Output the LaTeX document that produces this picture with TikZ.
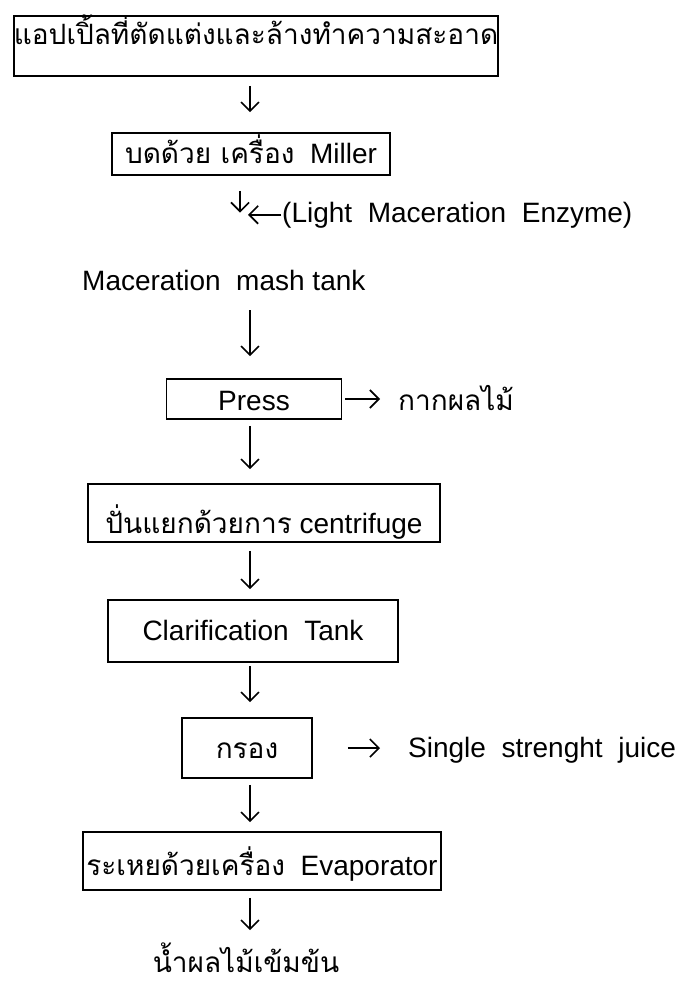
\documentclass[tikz,border=0pt]{standalone}
\usepackage{fontspec}
\setmainfont{Liberation Sans}
\newfontfamily\thaifont[Script=Thai]{Loma}
\newcommand{\thai}[1]{{\thaifont #1}}
\usetikzlibrary{arrows.meta}

\tikzset{
  box/.style={draw, line width=1.6pt, inner sep=0pt, anchor=base, font=\fontsize{28}{32}\selectfont},
  txt/.style={inner sep=0pt, font=\fontsize{28}{32}\selectfont},
  flow/.style={-{Straight Barb[length=9pt,width=18pt,line width=1.6pt]}, line width=1.5pt}
}

\begin{document}
\begin{tikzpicture}[x=1pt, y=-1pt]
    \useasboundingbox (0,0) rectangle (699,990);

    % Main line
    \node[box, minimum width=483pt, text height=29pt, text depth=31pt] (wash) at (256,45) {\thai{แอปเปิ้ลที่ตัดแต่งและล้างทำความสะอาด}};
    \node[box, minimum width=278pt, text height=30pt, text depth=12pt] (mill) at (251,163) {\thai{บดด้วย เครื่อง}\ \ Miller};
    \node[txt, anchor=base west] (enzyme) at (282,222) {(Light\ \ Maceration\ \ Enzyme)};
    \node[txt, anchor=base west] (mash) at (82,290) {Maceration\ \ mash tank};
    \node[box, minimum width=175pt, text height=31pt, text depth=9pt] (press) at (254,410) {Press};
    \node[box, minimum width=352pt, text height=49pt, text depth=9pt] (centri) at (264,533) {\thai{ปั่นแยกด้วยการ} centrifuge};
    \node[box, minimum width=290pt, text height=40pt, text depth=22pt] (clarif) at (253,640) {Clarification\ \ Tank};
    \node[box, minimum width=130pt, text height=40pt, text depth=20pt] (filter) at (247,758) {\thai{กรอง}};
    \node[box, minimum width=358pt, text height=43pt, text depth=15pt] (evap) at (262,875) {\thai{ระเหยด้วยเครื่อง}\ \ Evaporator};
    \node[txt, anchor=base] (conc) at (246,972) {\thai{น้ำผลไม้เข้มข้น}};

    % Side outputs
    \node[txt, anchor=base west] (pulp) at (398,410) {\thai{กากผลไม้}};
    \node[txt, anchor=base west] (juice) at (408,757) {Single\ \ strenght\ \ juice};

    % Arrows
    \coordinate (ax) at (250,0);
    \coordinate (bx) at (240,0);
    \draw[flow, shorten <=9pt, shorten >=20pt] (wash.south -| ax) -- (mill.north -| ax);
    \draw[flow, shorten <=15pt, shorten >=57pt] (mill.south -| bx) -- (mash.north -| bx);
    \draw[flow, shorten <=1pt, shorten >=8pt] (enzyme.west) -- (enzyme.west -| bx);
    \draw[flow, shorten <=20pt, shorten >=22pt] (mash.south -| ax) -- (press.north -| ax);
    \draw[flow, shorten <=6pt, shorten >=14pt] (press.south -| ax) -- (centri.north -| ax);
    \draw[flow, shorten <=8pt, shorten >=10pt] (centri.south -| ax) -- (clarif.north -| ax);
    \draw[flow, shorten <=3pt, shorten >=15pt] (clarif.south -| ax) -- (filter.north -| ax);
    \draw[flow, shorten <=6pt, shorten >=9pt] (filter.south -| ax) -- (evap.north -| ax);
    \draw[flow, shorten <=7pt, shorten >=12pt] (evap.south -| ax) -- (conc.north -| ax);
    \draw[flow, shorten <=3pt, shorten >=18pt] (press.east) -- (pulp.west |- press.east);
    \draw[flow, shorten <=35pt, shorten >=28pt] (filter.east) -- (juice.west |- filter.east);
\end{tikzpicture}
\end{document}
